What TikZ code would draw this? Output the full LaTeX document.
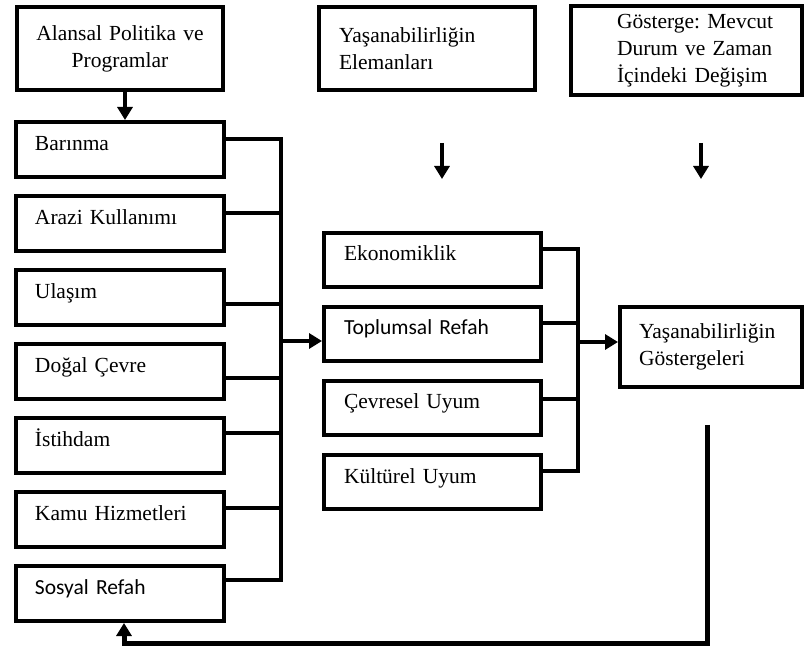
\documentclass[tikz,border=0pt]{standalone}
\usepackage{fontspec}
\setmainfont{Liberation Serif}
\newfontfamily\calfont{Carlito}
\usetikzlibrary{arrows.meta}

\begin{document}
\begin{tikzpicture}[x=1pt,y=-1pt,
  every node/.style={font=\fontsize{21.5}{27}\selectfont\frenchspacing},
  ind/.style={execute at begin node={\leftskip=#1pt\rightskip=0pt plus 1fil}},
  box/.style={draw,line width=4pt,anchor=north west,inner sep=0pt,align=left},
  lbox/.style={box,text width=208pt,ind=19,minimum height=55pt,text height=12pt,text depth=10pt},
  mbox/.style={box,text width=217pt,ind=20,minimum height=54pt,text height=12pt,text depth=10pt},
  conn/.style={line width=4pt},
  arr/.style={line width=4pt,-{Triangle[length=13pt,width=15pt]}}]
  \useasboundingbox (0,0) rectangle (804,652);

  % ust kutular
  \node[box,text width=206pt,minimum height=83pt,align=center] (als) at (15,5) {Alansal Politika ve\\Programlar};
  \node[box,text width=216pt,ind=20,minimum height=83pt] (elm) at (317,5) {Yaşanabilirliğin\\Elemanları};
  \node[box,text width=231pt,ind=46,minimum height=89pt] (gos) at (569,4) {Gösterge: Mevcut\\Durum ve Zaman\\İçindeki Değişim};

  % sol sutun
  \node[lbox] (bar) at (14,120) {Barınma};
  \node[lbox] (arz) at (14,194) {Arazi Kullanımı};
  \node[lbox] (ula) at (14,268) {Ulaşım};
  \node[lbox] (dog) at (14,342) {Doğal Çevre};
  \node[lbox] (ist) at (14,416) {İstihdam};
  \node[lbox] (kam) at (14,490) {Kamu Hizmetleri};
  \node[lbox] (sos) at (14,564) {{\calfont Sosyal Refah}};

  % orta sutun
  \node[mbox] (eko) at (322,231) {Ekonomiklik};
  \node[mbox] (tpl) at (322,305) {{\calfont Toplumsal Refah}};
  \node[mbox] (cev) at (322,379) {Çevresel Uyum};
  \node[mbox] (kul) at (322,453) {Kültürel Uyum};

  \node[box,text width=182pt,ind=19,minimum height=80pt] (gst) at (618,305) {Yaşanabilirliğin\\Göstergeleri};

  \coordinate (busL) at (281,341);
  \coordinate (busR) at (578,342);
  \coordinate (e1) at (442,143);
  \coordinate (e2) at (442,179);
  \coordinate (g1) at (701,143);
  \coordinate (g2) at (701,179);
  \coordinate (fb) at (707,425);

  \draw[arr] ([xshift=5pt]als.south) -- ([xshift=5pt]bar.north);
  \draw[arr] (e1) -- (e2);
  \draw[arr] (g1) -- (g2);

  \draw[conn] ([yshift=-19pt]bar.north east) -| (busL);
  \draw[conn] ([yshift=-19pt]arz.north east) -| (busL);
  \draw[conn] ([yshift=-36pt]ula.north east) -| (busL);
  \draw[conn] ([yshift=-36pt]dog.north east) -| (busL);
  \draw[conn] ([yshift=-17pt]ist.north east) -| (busL);
  \draw[conn] ([yshift=-18pt]kam.north east) -| (busL);
  \draw[conn] ([yshift=-16pt]sos.north east) -| (busL);
  \draw[arr] (busL) -- (busL -| tpl.west);

  \draw[conn] ([yshift=-18pt]eko.north east) -| (busR);
  \draw[conn] ([yshift=-18pt]tpl.north east) -| (busR);
  \draw[conn] ([yshift=-20pt]cev.north east) -| (busR);
  \draw[conn] ([yshift=-18pt]kul.north east) -| (busR);
  \draw[arr] (busR) -- (busR -| gst.west);

  % geri besleme
  \draw[arr,line width=5pt] (fb) -- ++(0,218) -| ([xshift=4pt]sos.south);
\end{tikzpicture}
\end{document}
